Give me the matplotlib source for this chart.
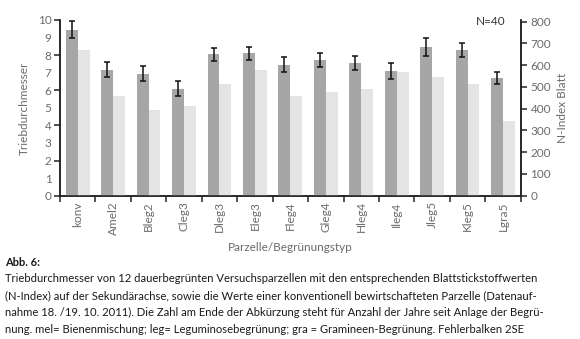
import matplotlib.pyplot as plt
import numpy as np

plt.rcParams['font.family'] = ['Lato', 'DejaVu Sans']

# Parzellen und Messwerte
parzellen = ['konv', 'Amel2', 'Bleg2', 'Cleg3', 'Dleg3', 'Eleg3', 'Fleg4',
             'Gleg4', 'Hleg4', 'Ileg4', 'Jleg5', 'Kleg5', 'Lgra5']
trieb = [9.45, 7.18, 6.95, 6.1, 8.05, 8.1, 7.45, 7.75, 7.55, 7.1, 8.45, 8.28, 6.7]
trieb_se2 = [0.47, 0.45, 0.42, 0.4, 0.37, 0.38, 0.43, 0.4, 0.42, 0.47, 0.5, 0.4, 0.33]
n_index = [669, 458, 392, 414, 513, 578, 458, 478, 489, 568, 548, 513, 345]

grau_dunkel = '#a6a6a6'
grau_hell = '#e4e4e4'
text_grau = '#6b6b6b'
achse = '#222222'

fig = plt.figure(figsize=(5.8, 3.39), dpi=100)
ax = fig.add_axes([60 / 580, 143.3 / 339, 460.7 / 580, 175.7 / 339])
ax2 = ax.twinx()

x = np.arange(len(parzellen))
w = 0.335
ax.bar(x - w / 2, trieb, w, color=grau_dunkel, zorder=3)
ax.errorbar(x - w / 2, trieb, yerr=trieb_se2, fmt='none', ecolor='#111111',
            elinewidth=1.1, capsize=2.2, capthick=1.1, zorder=4)
ax2.bar(x + w / 2, n_index, w, color=grau_hell, zorder=2)

ax.set_xlim(-0.5, len(parzellen) - 0.5)
ax.set_ylim(0, 10)
ax2.set_ylim(0, 808)

# linke Achse: Striche alle 2, Beschriftung jede Zahl
ax.set_yticks(range(0, 11, 2))
ax.set_yticks(range(1, 10, 2), minor=True)
ax.set_yticklabels([str(v) for v in range(0, 11, 2)])
ax.set_yticklabels([str(v) for v in range(1, 10, 2)], minor=True)
ax.tick_params(axis='y', which='major', length=4, width=1.1, color=achse,
               labelsize=8.5, labelcolor=text_grau, pad=2)
ax.tick_params(axis='y', which='minor', length=0, labelsize=8.5,
               labelcolor=text_grau, pad=6)

# x-Achse: Striche zwischen den Parzellen
ax.set_xticks(np.arange(-0.5, len(parzellen), 1.0))
ax.set_xticklabels([])
ax.set_xticks(x, minor=True)
ax.set_xticklabels(parzellen, minor=True, rotation=90)
ax.tick_params(axis='x', which='major', length=4, width=1.1, color=achse)
ax.tick_params(axis='x', which='minor', length=0, labelsize=8.5,
               labelcolor=text_grau, pad=4)

ax2.set_yticks(range(0, 801, 100))
ax2.tick_params(axis='y', length=4, width=1.1, color=achse, labelsize=8.5,
                labelcolor=text_grau, pad=3)

for a in (ax, ax2):
    a.spines['top'].set_visible(False)
    for s in ('left', 'right', 'bottom'):
        a.spines[s].set_color(achse)
        a.spines[s].set_linewidth(1.1)

ax.set_ylabel('Triebdurchmesser', fontsize=8.5, color=text_grau, labelpad=6)
ax2.set_ylabel('N-Index Blatt', fontsize=8.5, color=text_grau, labelpad=4)
ax.set_xlabel('Parzelle/Begrünungstyp', fontsize=8.5, color=text_grau, labelpad=5)

ax.text(0.968, 9.9, 'N=40', transform=ax.get_yaxis_transform(), ha='right',
        va='center', fontsize=8.5, color='#333333')

# Bildunterschrift
fig.text(5 / 580, 1 - 262 / 339, 'Abb. 6:', fontsize=8, fontweight='bold',
         color='#1a1a1a', va='center')
zeilen = [
    'Triebdurchmesser von 12 dauerbegrünten Versuchsparzellen mit den entsprechenden Blattstickstoffwerten',
    '(N-Index) auf der Sekundärachse, sowie die Werte einer konventionell bewirtschafteten Parzelle (Datenauf-',
    'nahme 18. /19. 10. 2011). Die Zahl am Ende der Abkürzung steht für Anzahl der Jahre seit Anlage der Begrü-',
    'nung. mel= Bienenmischung; leg= Leguminosebegrünung; gra = Gramineen-Begrünung. Fehlerbalken 2SE',
]
for i, z in enumerate(zeilen):
    fig.text(5 / 580, 1 - (279 + i * 16.8) / 339, z, fontsize=8.15,
             color='#1a1a1a', va='center')

fig.savefig('out.png', dpi=100)
